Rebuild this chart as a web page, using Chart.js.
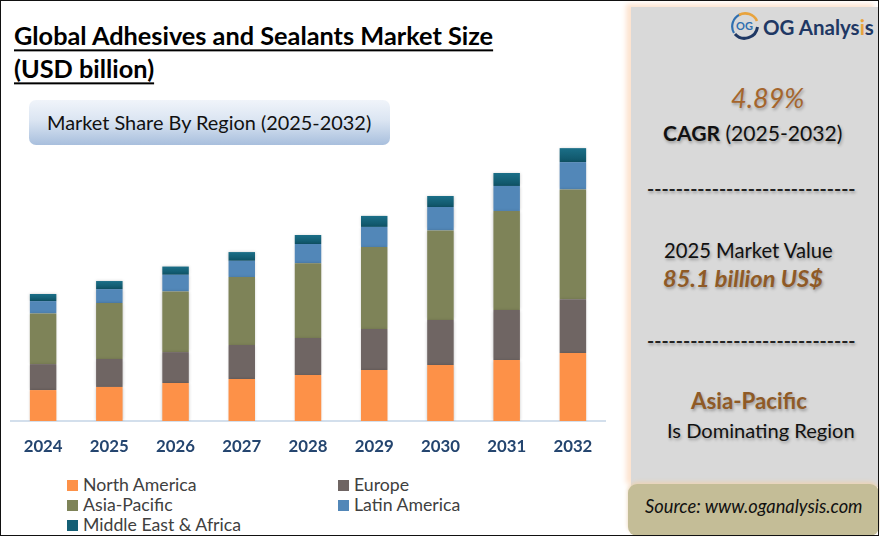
<!DOCTYPE html>
<html>
<head>
<meta charset="utf-8">
<script src="https://cdn.jsdelivr.net/npm/chart.js@4"></script>
<style>
html, body { margin: 0; padding: 0; background: #fff; }
body { width: 880px; height: 537px; overflow: hidden; position: relative; font-family: Lato, sans-serif; }
#frame { position: absolute; left: 0; top: 0; width: 877px; height: 534px; border: 1.5px solid #111; z-index: 5; pointer-events: none; }
#chart { position: absolute; left: 10px; top: 121px; }
.t { position: absolute; white-space: nowrap; line-height: 1; transform: translateY(-50%); }
.title { left: 14px; font-weight: 700; font-size: 25.3px; color: #000; text-decoration: underline; text-decoration-thickness: 2px; text-underline-offset: 4px; }
#pill { position: absolute; left: 29px; top: 100px; width: 361px; height: 45px; border-radius: 7px; background: linear-gradient(#f0f4fa, #dbe5f2 45%, #a8bfdd); }
#panel { position: absolute; left: 631px; top: 7px; width: 248px; height: 480px; background: #d9d9d9; box-shadow: -5px -3px 5px #fde4d0; }
#source { position: absolute; left: 628px; top: 484px; width: 251px; height: 52px; border-radius: 9px; background: #c4bd97; box-shadow: 0 -2px 4px #ecd3b4; }
.shadow { text-shadow: 1px 2px 3px rgba(0,0,0,.3); }
.brown { color: #8f5a26; }
#logo { position: absolute; left: 730px; top: 11px; }
.leg-box { position: absolute; width: 11px; height: 11px; }
.leg { font-size: 17.7px; color: #404040; }
</style>
</head>
<body>
<canvas id="chart" width="596" height="350"></canvas>

<div class="t title" style="top:36px">Global Adhesives and Sealants Market Size</div>
<div class="t title" style="top:69px">(USD billion)</div>
<div id="pill"></div>
<div class="t" style="left:47px;top:123px;font-size:19.9px;color:#111">Market Share By Region (2025-2032)</div>

<div id="legend"></div>

<div id="panel"></div>
<div id="source"></div>
<svg id="logo" width="30" height="30" viewBox="0 0 30 30">
  <path d="M4 22 A13 13 0 0 1 10 3.5" fill="none" stroke="#2f6fb0" stroke-width="2.2"/>
  <path d="M9 4 A13 13 0 0 1 27 10" fill="none" stroke="#e8a33d" stroke-width="2.6"/>
  <path d="M27.5 16 A13 13 0 0 1 5 23" fill="none" stroke="#1f3864" stroke-width="3"/>
  <text x="14.5" y="19" font-family="Lato" font-weight="700" font-size="11" fill="#2f6fb0" text-anchor="middle">OG</text>
</svg>
<div class="t" style="left:763px;top:27px;font-size:20.5px;font-weight:700;color:#1f3864">OG Analys<span style="color:#e8a33d">i</span>s</div>

<div class="t brown shadow" style="left:731px;top:97px;font-size:27px;font-style:italic;color:#a5652c">4.89%</div>
<div class="t shadow" style="left:663px;top:133px;font-size:21.1px;color:#111"><b>CAGR</b> (2025-2032)</div>
<div class="t shadow" style="left:647px;top:189px;font-size:19.3px;font-weight:700;color:#222">-----------------------------</div>
<div class="t shadow" style="left:664px;top:250px;font-size:20.2px;color:#111">2025 Market Value</div>
<div class="t brown shadow" style="left:663px;top:279px;font-size:23.6px;font-weight:700;font-style:italic">85.1 billion US$</div>
<div class="t shadow" style="left:647px;top:341px;font-size:19.3px;font-weight:700;color:#222">-----------------------------</div>
<div class="t brown shadow" style="left:691px;top:401px;font-size:22.3px;font-weight:700">Asia-Pacific</div>
<div class="t shadow" style="left:667px;top:430px;font-size:20.1px;color:#111">Is Dominating Region</div>
<div class="t" style="left:645px;top:506px;font-size:18.3px;font-style:italic;color:#111">Source: www.oganalysis.com</div>
<div id="frame"></div>

<script>
const years = ['2024', '2025', '2026', '2027', '2028', '2029', '2030', '2031', '2032'];
const northAmerica = [18.8, 20.7, 23.1, 25.5, 28.0, 31.0, 34.0, 37.1, 41.3];
const europe = [15.8, 17.0, 18.8, 20.7, 22.5, 24.9, 27.4, 30.4, 32.8];
const asiaPacific = [30.8, 34.0, 36.9, 41.3, 45.4, 49.9, 54.5, 60.2, 66.7];
const latinAmerica = [7.5, 8.5, 10.1, 9.9, 11.7, 12.2, 14.2, 15.2, 16.6];
const middleEastAfrica = [4.3, 4.9, 5.0, 5.3, 5.5, 6.7, 6.7, 7.9, 8.5];
const regionNames = ['North America', 'Europe', 'Asia-Pacific', 'Latin America', 'Middle East & Africa'];
const regionColors = ['#fd9148', '#6f6563', '#7e8358', '#5287b8', '#145f75'];
const regionValues = [northAmerica, europe, asiaPacific, latinAmerica, middleEastAfrica];

// legend sits in two columns under the axis
const legend = document.getElementById('legend');
regionNames.forEach((name, i) => {
    const x = i % 2 === 0 ? 67 : 338;
    const y = 485 + Math.floor(i / 2) * 20;
    legend.insertAdjacentHTML('beforeend',
        `<div class="leg-box" style="left:${x}px;top:${y - 5}px;background:${regionColors[i]}"></div>` +
        `<div class="t leg" style="left:${x + 16}px;top:${y}px">${name.replace('&', '&amp;')}</div>`);
});

// soft shadow around the bars
const barShadow = {
    id: 'barShadow',
    beforeDatasetsDraw(chart) {
        const ctx = chart.ctx;
        ctx.save();
        ctx.shadowColor = 'rgba(0,0,0,0.22)';
        ctx.shadowBlur = 3;
    },
    afterDatasetsDraw(chart) {
        chart.ctx.restore();
    }
};

// top segment fades slightly from top to bottom
function topSegmentFill(context) {
    const i = context.dataIndex;
    const y = context.chart.scales.y;
    if (i === undefined || !y) return regionColors[4];
    const total = regionValues.reduce((sum, arr) => sum + arr[i], 0);
    const y0 = y.getPixelForValue(total);
    const y1 = y.getPixelForValue(total - middleEastAfrica[i]);
    if (!Number.isFinite(y0) || !Number.isFinite(y1)) return regionColors[4];
    const g = context.chart.ctx.createLinearGradient(0, y0, 0, y1);
    g.addColorStop(0, '#1b6f88');
    g.addColorStop(1, '#0f5366');
    return g;
}

new Chart(document.getElementById('chart'), {
    type: 'bar',
    plugins: [barShadow],
    data: {
        labels: years,
        datasets: regionNames.map((name, i) => ({
            label: name,
            data: regionValues[i],
            backgroundColor: i === 4 ? topSegmentFill : regionColors[i],
            categoryPercentage: 1,
            barPercentage: 0.4
        }))
    },
    options: {
        responsive: false,
        animation: false,
        devicePixelRatio: 1,
        layout: { padding: 0 },
        plugins: {
            legend: { display: false },
            tooltip: { enabled: false }
        },
        scales: {
            x: {
                stacked: true,
                afterFit: scale => { scale.height = 50; },
                grid: { display: false },
                border: { color: '#d3dfec', width: 2 },
                ticks: {
                    color: '#24456f',
                    padding: 8,
                    maxRotation: 0,
                    font: { family: 'Lato', size: 16.8, weight: 'bold' }
                }
            },
            y: {
                stacked: true,
                display: false,
                min: 0,
                max: 182.4
            }
        }
    }
});
</script>
</body>
</html>
